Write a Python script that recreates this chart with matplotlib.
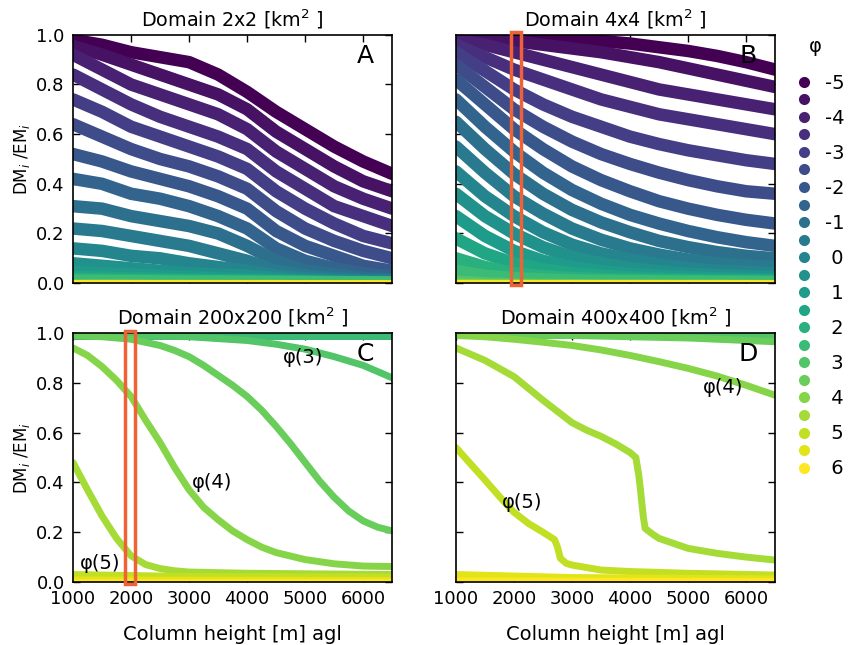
import numpy as np
import matplotlib.pyplot as plt
from matplotlib.lines import Line2D
from matplotlib.patches import Rectangle

# grain-size classes (phi) and column heights [m]
phi = [-5, -4.5, -4, -3.5, -3, -2.5, -2, -1.5, -1, -0.5, 0, 0.5,
       1, 1.5, 2, 2.5, 3, 3.5, 4, 4.5, 5, 5.5, 6]
heights = [1000, 1500, 2000, 2500, 3000, 3500, 4000, 4500, 5000, 5500, 6000, 6500]

# DM_i/EM_i, domain 2x2 km2 (one row per phi class)
ratio_2x2 = [
    [0.98, 0.96, 0.93, 0.91, 0.89, 0.84, 0.77, 0.69, 0.62, 0.55, 0.49, 0.44],
    [0.955, 0.92, 0.88, 0.84, 0.80, 0.76, 0.70, 0.61, 0.54, 0.47, 0.41, 0.37],
    [0.92, 0.86, 0.80, 0.76, 0.72, 0.68, 0.62, 0.53, 0.46, 0.39, 0.34, 0.30],
    [0.84, 0.78, 0.72, 0.67, 0.63, 0.59, 0.54, 0.45, 0.38, 0.31, 0.27, 0.23],
    [0.74, 0.69, 0.63, 0.59, 0.55, 0.51, 0.46, 0.37, 0.30, 0.24, 0.19, 0.16],
    [0.64, 0.59, 0.54, 0.50, 0.47, 0.43, 0.38, 0.29, 0.22, 0.17, 0.13, 0.10],
    [0.52, 0.49, 0.45, 0.42, 0.39, 0.35, 0.30, 0.21, 0.15, 0.11, 0.07, 0.05],
    [0.42, 0.40, 0.36, 0.34, 0.31, 0.27, 0.22, 0.14, 0.09, 0.06, 0.04, 0.025],
    [0.31, 0.30, 0.27, 0.25, 0.23, 0.20, 0.15, 0.09, 0.05, 0.035, 0.02, 0.015],
    [0.22, 0.21, 0.19, 0.17, 0.15, 0.12, 0.09, 0.05, 0.03, 0.02, 0.012, 0.01],
    [0.14, 0.13, 0.11, 0.10, 0.08, 0.065, 0.05, 0.03, 0.02, 0.012, 0.008, 0.006],
    [0.08, 0.07, 0.06, 0.05, 0.04, 0.035, 0.03, 0.02, 0.012, 0.008, 0.005, 0.004],
    [0.045, 0.04, 0.035, 0.03, 0.025, 0.02, 0.016, 0.012, 0.008, 0.005, 0.004, 0.003],
    [0.025, 0.022, 0.02, 0.017, 0.014, 0.012, 0.01, 0.008, 0.006, 0.004, 0.003, 0.003],
    [0.015, 0.013, 0.012, 0.01, 0.009, 0.008, 0.007, 0.006, 0.005, 0.004, 0.003, 0.003],
    [0.01, 0.009, 0.008, 0.007, 0.006, 0.006, 0.005, 0.005, 0.004, 0.003, 0.003, 0.002],
    [0.005, 0.005, 0.004, 0.004, 0.004, 0.003, 0.003, 0.003, 0.002, 0.002, 0.002, 0.002],
    [0.003, 0.003, 0.003, 0.002, 0.002, 0.002, 0.002, 0.002, 0.001, 0.001, 0.001, 0.001],
    [0.002, 0.002, 0.002, 0.001, 0.001, 0.001, 0.001, 0.001, 0.001, 0.001, 0.001, 0.001],
    [0.001, 0.001, 0.001, 0.001, 0.001, 0.001, 0.001, 0.001, 0.0, 0.0, 0.0, 0.0],
    [0.0, 0.0, 0.0, 0.0, 0.0, 0.0, 0.0, 0.0, 0.0, 0.0, 0.0, 0.0],
    [0.0, 0.0, 0.0, 0.0, 0.0, 0.0, 0.0, 0.0, 0.0, 0.0, 0.0, 0.0],
    [0.0, 0.0, 0.0, 0.0, 0.0, 0.0, 0.0, 0.0, 0.0, 0.0, 0.0, 0.0],
]

# DM_i/EM_i, domain 4x4 km2
ratio_4x4 = [
    [0.995, 0.993, 0.99, 0.985, 0.98, 0.975, 0.965, 0.95, 0.935, 0.915, 0.89, 0.86],
    [0.99, 0.985, 0.975, 0.96, 0.945, 0.93, 0.91, 0.89, 0.865, 0.84, 0.815, 0.79],
    [0.98, 0.96, 0.93, 0.90, 0.87, 0.84, 0.81, 0.78, 0.76, 0.74, 0.72, 0.70],
    [0.96, 0.91, 0.86, 0.82, 0.78, 0.74, 0.71, 0.68, 0.66, 0.64, 0.62, 0.60],
    [0.93, 0.855, 0.78, 0.72, 0.67, 0.63, 0.59, 0.56, 0.535, 0.515, 0.495, 0.48],
    [0.88, 0.79, 0.70, 0.63, 0.57, 0.52, 0.48, 0.445, 0.415, 0.39, 0.37, 0.36],
    [0.82, 0.72, 0.62, 0.54, 0.47, 0.415, 0.37, 0.33, 0.30, 0.275, 0.255, 0.24],
    [0.74, 0.63, 0.53, 0.445, 0.375, 0.32, 0.275, 0.24, 0.21, 0.185, 0.165, 0.15],
    [0.65, 0.54, 0.44, 0.36, 0.295, 0.245, 0.205, 0.17, 0.145, 0.125, 0.11, 0.10],
    [0.55, 0.445, 0.35, 0.28, 0.22, 0.175, 0.14, 0.115, 0.095, 0.08, 0.07, 0.065],
    [0.45, 0.35, 0.27, 0.205, 0.155, 0.12, 0.095, 0.075, 0.06, 0.05, 0.045, 0.04],
    [0.36, 0.27, 0.20, 0.145, 0.105, 0.08, 0.06, 0.048, 0.038, 0.032, 0.028, 0.025],
    [0.27, 0.19, 0.13, 0.09, 0.065, 0.048, 0.037, 0.03, 0.024, 0.02, 0.017, 0.015],
    [0.18, 0.12, 0.08, 0.055, 0.04, 0.03, 0.023, 0.018, 0.015, 0.013, 0.011, 0.01],
    [0.10, 0.065, 0.04, 0.028, 0.02, 0.016, 0.013, 0.011, 0.009, 0.008, 0.007, 0.006],
    [0.05, 0.03, 0.02, 0.015, 0.011, 0.009, 0.008, 0.007, 0.006, 0.005, 0.005, 0.004],
    [0.02, 0.013, 0.009, 0.007, 0.006, 0.005, 0.005, 0.004, 0.004, 0.004, 0.003, 0.003],
    [0.008, 0.006, 0.005, 0.004, 0.004, 0.003, 0.003, 0.003, 0.003, 0.003, 0.002, 0.002],
    [0.004, 0.003, 0.003, 0.002, 0.002, 0.002, 0.002, 0.002, 0.001, 0.001, 0.001, 0.001],
    [0.002, 0.002, 0.001, 0.001, 0.001, 0.001, 0.001, 0.001, 0.0, 0.0, 0.0, 0.0],
    [0.0, 0.0, 0.0, 0.0, 0.0, 0.0, 0.0, 0.0, 0.0, 0.0, 0.0, 0.0],
    [0.0, 0.0, 0.0, 0.0, 0.0, 0.0, 0.0, 0.0, 0.0, 0.0, 0.0, 0.0],
    [0.0, 0.0, 0.0, 0.0, 0.0, 0.0, 0.0, 0.0, 0.0, 0.0, 0.0, 0.0],
]

# domain 200x200 km2: coarse classes stay at this level, finer ones below
flat_200 = 0.99
h200_3 = [1000, 2000, 3000, 4000, 4500, 5000, 5500, 6000, 6500]
r200_3 = [0.99, 0.99, 0.985, 0.97, 0.955, 0.935, 0.905, 0.87, 0.82]
h200_35 = [1000, 1500, 2000, 2500, 2750, 3000, 3250, 3500, 3750, 4000, 4250, 4500,
           4750, 5000, 5250, 5500, 5750, 6000, 6250, 6500]
r200_35 = [0.99, 0.985, 0.975, 0.95, 0.93, 0.905, 0.87, 0.83, 0.79, 0.745, 0.69, 0.625,
           0.555, 0.48, 0.405, 0.34, 0.285, 0.245, 0.22, 0.205]
h200_4 = [1000, 1250, 1500, 1750, 2000, 2250, 2500, 2750, 3000, 3250, 3500, 3750,
          4000, 4250, 4500, 5000, 5500, 6000, 6500]
r200_4 = [0.94, 0.91, 0.865, 0.81, 0.745, 0.65, 0.56, 0.46, 0.37, 0.30, 0.25, 0.205,
          0.17, 0.14, 0.118, 0.09, 0.073, 0.064, 0.062]
h200_45 = [1000, 1250, 1500, 1750, 2000, 2250, 2500, 2750, 3000, 4000, 5000, 6500]
r200_45 = [0.48, 0.37, 0.265, 0.175, 0.105, 0.07, 0.054, 0.045, 0.04, 0.035, 0.033, 0.03]
h200_5 = [1000, 3000, 6500]
r200_5 = [0.03, 0.022, 0.02]
h200_55 = [1000, 6500]
r200_55 = [0.008, 0.006]
h200_6 = [1000, 6500]
r200_6 = [0.0, 0.0]

# domain 400x400 km2
flat_400 = 0.993
h400_35 = [1000, 3000, 5000, 6500]
r400_35 = [0.993, 0.99, 0.98, 0.965]
h400_4 = [1000, 1500, 2000, 2500, 3000, 3500, 4000, 4500, 5000, 5500, 6000, 6500]
r400_4 = [0.99, 0.985, 0.975, 0.963, 0.95, 0.932, 0.91, 0.885, 0.858, 0.827, 0.79, 0.75]
h400_45 = [1000, 1500, 2000, 2500, 3000, 3250, 3500, 3750, 4000, 4100, 4150, 4180,
           4230, 4260, 4400, 4500, 5000, 5500, 6000, 6500]
r400_45 = [0.94, 0.89, 0.825, 0.73, 0.64, 0.61, 0.585, 0.555, 0.52, 0.50, 0.43, 0.37,
           0.26, 0.215, 0.19, 0.175, 0.135, 0.115, 0.10, 0.088]
h400_5 = [1000, 1500, 1800, 2000, 2250, 2500, 2700, 2750, 2800, 2900, 3000, 3500,
          4000, 5000, 6500]
r400_5 = [0.54, 0.41, 0.33, 0.28, 0.235, 0.20, 0.17, 0.14, 0.095, 0.075, 0.068, 0.048,
          0.042, 0.035, 0.028]
h400_55 = [1000, 3000, 6500]
r400_55 = [0.03, 0.018, 0.012]
h400_6 = [1000, 6500]
r400_6 = [0.004, 0.002]

colors = plt.cm.viridis(np.linspace(0, 1, len(phi)))
col = dict(zip(phi, colors))

plt.rcParams['font.family'] = 'DejaVu Sans'

fig = plt.figure(figsize=(8.49, 6.45), dpi=100)
axA = fig.add_axes([0.086, 0.561, 0.376, 0.385])
axB = fig.add_axes([0.537, 0.561, 0.376, 0.385])
axC = fig.add_axes([0.086, 0.0977, 0.376, 0.386])
axD = fig.add_axes([0.537, 0.0977, 0.376, 0.386])


def band(ax, x, y, c, lw):
    ax.plot(x, y, color=c, lw=lw, solid_capstyle='round', solid_joinstyle='round')


# small domains: fine classes sit on the axis, drawn thinner
for ax, table in [(axA, ratio_2x2), (axB, ratio_4x4)]:
    for p, row in zip(phi, table):
        band(ax, heights, row, col[p], 9 if p < 3 else 4)

# 200x200
for p in phi:
    if p <= 2.5:
        band(axC, [heights[0], heights[-1]], [flat_200, flat_200], col[p], 5)
for p, h, r in [(3, h200_3, r200_3), (3.5, h200_35, r200_35), (4, h200_4, r200_4),
                (4.5, h200_45, r200_45), (5, h200_5, r200_5),
                (5.5, h200_55, r200_55), (6, h200_6, r200_6)]:
    band(axC, h, r, col[p], 5)

# 400x400
for p in phi:
    if p <= 3:
        band(axD, [heights[0], heights[-1]], [flat_400, flat_400], col[p], 5)
for p, h, r in [(3.5, h400_35, r400_35), (4, h400_4, r400_4), (4.5, h400_45, r400_45),
                (5, h400_5, r400_5), (5.5, h400_55, r400_55), (6, h400_6, r400_6)]:
    band(axD, h, r, col[p], 5)

titles = ['Domain 2x2 [km$^2$ ]', 'Domain 4x4 [km$^2$ ]',
          'Domain 200x200 [km$^2$ ]', 'Domain 400x400 [km$^2$ ]']
for ax, title, letter in zip([axA, axB, axC, axD], titles, 'ABCD'):
    ax.set_xlim(1000, 6500)
    ax.set_ylim(0, 1)
    ax.set_xticks([1000, 2000, 3000, 4000, 5000, 6000])
    ax.set_yticks([0.0, 0.2, 0.4, 0.6, 0.8, 1.0])
    ax.tick_params(direction='in', top=True, right=True, length=5, width=1,
                   labelsize=13, pad=6)
    for s in ax.spines.values():
        s.set_linewidth(1.2)
    ax.set_title(title, fontsize=13.8, pad=6)
    ax.text(0.915, 0.915, letter, transform=ax.transAxes, fontsize=18,
            ha='center', va='center')

for ax in [axA, axB]:
    ax.set_xticklabels([])
for ax in [axB, axD]:
    ax.set_yticklabels([])
for ax in [axA, axC]:
    ax.set_ylabel('DM$_i$ /EM$_i$', fontsize=12, labelpad=3)
for ax in [axC, axD]:
    ax.set_xlabel('Column height [m] agl', fontsize=14, labelpad=12)

axC.text(4620, 0.90, 'φ(3)', fontsize=14, va='center')
axC.text(3050, 0.40, 'φ(4)', fontsize=14, va='center')
axC.text(1120, 0.075, 'φ(5)', fontsize=14, va='center')
axD.text(5260, 0.78, 'φ(4)', fontsize=14, va='center')
axD.text(1790, 0.32, 'φ(5)', fontsize=14, va='center')

# highlighted 2000 m column
for ax, x0 in [(axB, 1950), (axC, 1890)]:
    ax.add_patch(Rectangle((x0, -0.008), 180, 1.018, fill=False, ec='#ee6236',
                           lw=2.5, clip_on=False, zorder=5))

# class legend on the right
handles = [Line2D([], [], ls='none', marker='o', ms=8, mec='none', mfc=c) for c in colors]
labels = [('%d' % p if p < 0 else ' %d' % p) if float(p).is_integer() else '' for p in phi]
fig.legend(handles, labels, loc='upper left', bbox_to_anchor=(0.935, 0.886),
           frameon=False, fontsize=14, labelspacing=-0.075, handletextpad=0.6,
           handlelength=1.0, borderaxespad=0, borderpad=0)
fig.text(0.96, 1 - 47 / 645, 'φ', fontsize=14, ha='center', va='center')

fig.savefig('out.png', dpi=100)
